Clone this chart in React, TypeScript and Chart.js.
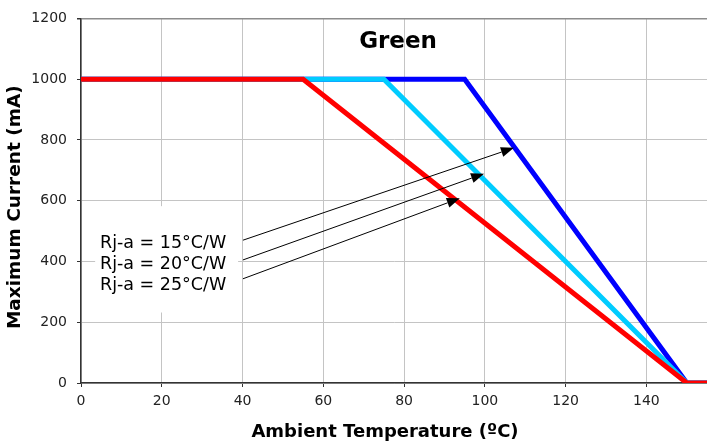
import React, { useEffect, useRef } from "react";
import { Chart, registerables } from "chart.js";

Chart.register(...registerables);

// Series data (Ambient temperature °C -> Maximum current mA)
const redTemps = [0, 55, 150, 155];
const redCurrent = [1000, 1000, 0, 0];
const cyanTemps = [0, 75, 150, 155];
const cyanCurrent = [1000, 1000, 0, 0];
const blueTemps = [0, 95, 150, 155];
const blueCurrent = [1000, 1000, 0, 0];

// Axis ticks
const xTicks = [0, 20, 40, 60, 80, 100, 120, 140];
const yTicks = [0, 200, 400, 600, 800, 1000, 1200];

// Annotation content (data coordinates)
const chartTitle = "Green";
const titlePos = [78.5, 1122];
const labelTexts = ["Rj-a = 15°C/W", "Rj-a = 20°C/W", "Rj-a = 25°C/W"];
const labelX = [4.7, 4.7, 4.7];
const labelY = [459, 389, 320];
const labelBox = [3.5, 38.9, 232, 582];
const arrowFromX = [40.1, 40.1, 40.1];
const arrowFromY = [470, 405, 343];
const arrowToX = [107.2, 99.8, 93.8];
const arrowToY = [774, 689, 608];

const xTitle = "Ambient Temperature (ºC)";
const yTitle = "Maximum Current (mA)";

const FONT = "'DejaVu Sans', Verdana, sans-serif";

const overlayPlugin = {
  id: "overlay",
  beforeDatasetsDraw(chart: any) {
    const { ctx, scales } = chart;
    const x = scales.x;
    const y = scales.y;
    ctx.save();
    ctx.fillStyle = "#ffffff";
    const x0 = x.getPixelForValue(labelBox[0]);
    const x1 = x.getPixelForValue(labelBox[1]);
    const y0 = y.getPixelForValue(labelBox[3]);
    const y1 = y.getPixelForValue(labelBox[2]);
    ctx.fillRect(x0, y0, x1 - x0, y1 - y0);
    ctx.restore();
  },
  afterDatasetsDraw(chart: any) {
    const { ctx, scales, chartArea } = chart;
    const x = scales.x;
    const y = scales.y;
    ctx.save();
    // labels
    ctx.fillStyle = "#000";
    ctx.font = `17.5px ${FONT}`;
    ctx.textAlign = "left";
    ctx.textBaseline = "middle";
    labelTexts.forEach((t, i) => {
      ctx.fillText(t, x.getPixelForValue(labelX[i]), y.getPixelForValue(labelY[i]));
    });
    // arrows
    ctx.strokeStyle = "#000";
    ctx.lineWidth = 1;
    for (let i = 0; i < arrowFromX.length; i++) {
      const sx = x.getPixelForValue(arrowFromX[i]);
      const sy = y.getPixelForValue(arrowFromY[i]);
      const ex = x.getPixelForValue(arrowToX[i]);
      const ey = y.getPixelForValue(arrowToY[i]);
      const ang = Math.atan2(ey - sy, ex - sx);
      const hl = 13;
      const hw = 5;
      const bx = ex - hl * Math.cos(ang);
      const by = ey - hl * Math.sin(ang);
      ctx.beginPath();
      ctx.moveTo(sx, sy);
      ctx.lineTo(bx, by);
      ctx.stroke();
      ctx.beginPath();
      ctx.moveTo(ex, ey);
      ctx.lineTo(bx + hw * Math.sin(ang), by - hw * Math.cos(ang));
      ctx.lineTo(bx - hw * Math.sin(ang), by + hw * Math.cos(ang));
      ctx.closePath();
      ctx.fillStyle = "#000";
      ctx.fill();
    }
    // title
    ctx.font = `bold 23px ${FONT}`;
    ctx.textAlign = "center";
    ctx.textBaseline = "middle";
    ctx.fillText(chartTitle, x.getPixelForValue(titlePos[0]), y.getPixelForValue(titlePos[1]));
    // axis titles
    ctx.font = `bold 18px ${FONT}`;
    ctx.fillStyle = "#000";
    ctx.fillText(xTitle, (chartArea.left + chartArea.right) / 2 - 9, chart.height - 12.5);
    ctx.font = `bold 18.5px ${FONT}`;
    ctx.translate(15, (chartArea.top + chartArea.bottom) / 2 + 6.5);
    ctx.rotate(-Math.PI / 2);
    ctx.fillText(yTitle, 0, 0);
    ctx.restore();
  },
};

export default function App() {
  const canvasRef = useRef<HTMLCanvasElement | null>(null);

  useEffect(() => {
    const canvas = canvasRef.current;
    if (!canvas) return;
    const mk = (xs: number[], ys: number[]) => xs.map((v, i) => ({ x: v, y: ys[i] }));
    const chart = new Chart(canvas, {
      type: "line",
      data: {
        datasets: [
          {
            label: "Rj-a = 25°C/W",
            data: mk(redTemps, redCurrent),
            borderColor: "#ff0000",
            borderWidth: 5,
            pointRadius: 0,
            tension: 0,
            fill: false,
          },
          {
            label: "Rj-a = 20°C/W",
            data: mk(cyanTemps, cyanCurrent),
            borderColor: "#00ccff",
            borderWidth: 5,
            pointRadius: 0,
            tension: 0,
            fill: false,
          },
          {
            label: "Rj-a = 15°C/W",
            data: mk(blueTemps, blueCurrent),
            borderColor: "#0000ff",
            borderWidth: 5,
            pointRadius: 0,
            tension: 0,
            fill: false,
          },
        ],
      },
      options: {
        responsive: false,
        animation: false,
        layout: { padding: { left: 0, right: 0, top: 16, bottom: 0 } },
        plugins: {
          legend: { display: false },
          tooltip: { enabled: false },
          title: { display: false },
        },
        scales: {
          x: {
            type: "linear",
            min: 0,
            max: 155,
            afterBuildTicks: (s: any) => {
              s.ticks = xTicks.map((v) => ({ value: v }));
            },
            afterFit: (s: any) => {
              s.height = 62;
            },
            ticks: {
              font: { family: FONT, size: 14 },
              color: "#222",
              padding: 6,
              maxRotation: 0,
              callback: (v: any) => String(v),
            },
            grid: {
              color: "#c4c4c4",
              lineWidth: 1,
              tickLength: 4,
              tickColor: "#333",
            },
            border: { color: "#333", width: 1.5 },
          },
          y: {
            type: "linear",
            min: 0,
            max: 1200,
            afterBuildTicks: (s: any) => {
              s.ticks = yTicks.map((v) => ({ value: v }));
            },
            afterFit: (s: any) => {
              s.width = 81;
            },
            ticks: {
              font: { family: FONT, size: 14 },
              color: "#222",
              padding: 10,
              callback: (v: any) => String(v),
            },
            grid: {
              color: (c: any) => (c.tick && c.tick.value === 1200 ? "#8c8c8c" : "#c4c4c4"),
              lineWidth: (c: any) => (c.tick && c.tick.value === 1200 ? 1.5 : 1),
              tickLength: 4,
              tickColor: "#333",
            },
            border: { color: "#333", width: 1.5 },
          },
        },
      },
      plugins: [overlayPlugin],
    });
    return () => chart.destroy();
  }, []);

  return (
    <div style={{ position: "absolute", left: 0, top: 0, width: 707, height: 445, background: "#fff" }}>
      <canvas ref={canvasRef} width={707} height={445} />
    </div>
  );
}
